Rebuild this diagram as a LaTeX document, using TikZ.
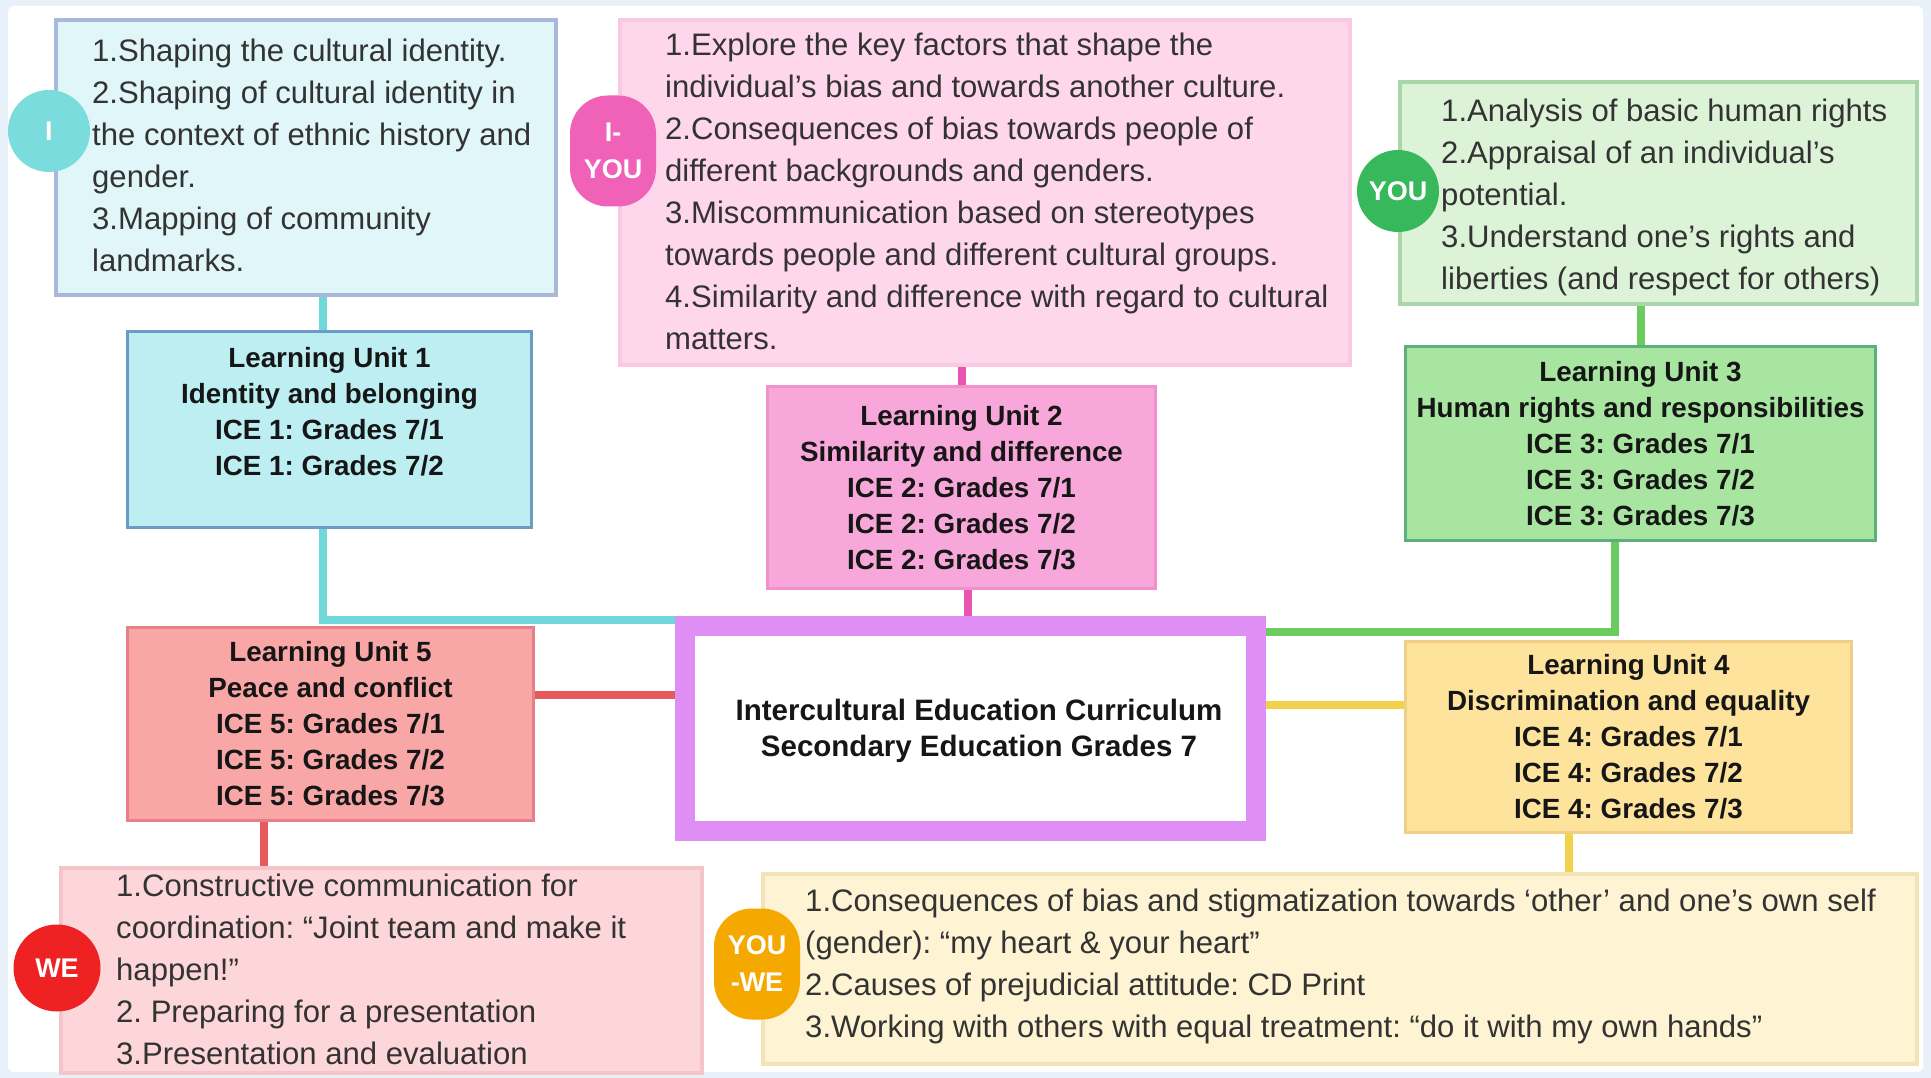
\documentclass[tikz,border=0pt]{standalone}
\usepackage{fontspec}
\setmainfont{Liberation Sans}
\usetikzlibrary{backgrounds}
\frenchspacing

% palette
\definecolor{frameblue}{HTML}{E8F1FA}
\definecolor{bodytext}{HTML}{333333}
\definecolor{unittext}{HTML}{161616}
\definecolor{cyanbadge}{HTML}{7ADCDC}
\definecolor{cyanline}{HTML}{70D8D8}
\definecolor{cyanpanel}{HTML}{E0F6F9}
\definecolor{cyanpanelrim}{HTML}{A9B7DA}
\definecolor{cyanunit}{HTML}{BDEFF2}
\definecolor{cyanunitrim}{HTML}{6E9AC6}
\definecolor{pinkbadge}{HTML}{F062B8}
\definecolor{pinkline}{HTML}{E856B2}
\definecolor{pinkpanel}{HTML}{FFD7EC}
\definecolor{pinkpanelrim}{HTML}{FAC8E1}
\definecolor{pinkunit}{HTML}{F7A7DA}
\definecolor{pinkunitrim}{HTML}{F290CD}
\definecolor{greenbadge}{HTML}{36B85B}
\definecolor{greenline}{HTML}{6ACB5E}
\definecolor{greenpanel}{HTML}{DDF3D8}
\definecolor{greenpanelrim}{HTML}{A9D6A9}
\definecolor{greenunit}{HTML}{A7E5A0}
\definecolor{greenunitrim}{HTML}{5DAF7C}
\definecolor{redbadge}{HTML}{EE2222}
\definecolor{redline}{HTML}{E65A5E}
\definecolor{redpanel}{HTML}{FDD6DA}
\definecolor{redpanelrim}{HTML}{F5C3CA}
\definecolor{redunit}{HTML}{F9A6A6}
\definecolor{redunitrim}{HTML}{E77F87}
\definecolor{orangebadge}{HTML}{F5A900}
\definecolor{yellowline}{HTML}{F2D24A}
\definecolor{yellowpanel}{HTML}{FEF3D2}
\definecolor{yellowpanelrim}{HTML}{F3E3B5}
\definecolor{yellowunit}{HTML}{FDE39C}
\definecolor{yellowunitrim}{HTML}{F0CE86}
\definecolor{purplerim}{HTML}{DF8EF3}

\tikzset{
  panel/.style={anchor=north west, inner sep=0pt, line width=4pt},
  body/.style={anchor=west, align=left, inner sep=0pt, text=bodytext,
    font=\fontsize{31.1}{42}\selectfont},
  unitbox/.style={anchor=north west, inner sep=0pt, line width=3pt, align=center,
    text=unittext, font=\bfseries\fontsize{27.8}{36}\selectfont},
  badge/.style={inner sep=0pt, text=white, align=center,
    font=\bfseries\fontsize{27}{37}\selectfont},
  roundbadge/.style={badge, circle},
  tallbadge/.style={badge, rectangle, rounded corners=38pt,
    minimum width=86pt, minimum height=111pt},
  link/.style={line width=8pt},
}

\begin{document}
\begin{tikzpicture}[x=1pt,y=-1pt]
\useasboundingbox (0,0) rectangle (1931,1078);

% ---- topic panels ----
\node[panel, fill=cyanpanel, draw=cyanpanelrim, minimum width=500pt, minimum height=275pt]
  (panelI) at (54,18) {};
\node[body] (textI) at (92,155) {1.Shaping the cultural identity.\\
2.Shaping of cultural identity in\\
the context of ethnic history and\\
gender.\\
3.Mapping of community\\
landmarks.};

\node[panel, fill=pinkpanel, draw=pinkpanelrim, minimum width=730pt, minimum height=345pt]
  (panelIYOU) at (618,18) {};
\node[body] (textIYOU) at (665,191) {1.Explore the key factors that shape the\\
individual’s bias and towards another culture.\\
2.Consequences of bias towards people of\\
different backgrounds and genders.\\
3.Miscommunication based on stereotypes\\
towards people and different cultural groups.\\
4.Similarity and difference with regard to cultural\\
matters.};

\node[panel, fill=greenpanel, draw=greenpanelrim, minimum width=517pt, minimum height=222pt]
  (panelYOU) at (1398,80) {};
\node[body] (textYOU) at (1441,197) {1.Analysis of basic human rights\\
2.Appraisal of an individual’s\\
potential.\\
3.Understand one’s rights and\\
liberties (and respect for others)};

\node[panel, fill=redpanel, draw=redpanelrim, minimum width=641pt, minimum height=205pt]
  (panelWE) at (59,866) {};
\node[body] (textWE) at (116,969) {1.Constructive communication for\\
coordination: “Joint team and make it\\
happen!”\\
2. Preparing for a presentation\\
3.Presentation and evaluation};

\node[panel, fill=yellowpanel, draw=yellowpanelrim, minimum width=1154pt, minimum height=190pt]
  (panelYOUWE) at (761,872) {};
\node[body] (textYOUWE) at (805,966) {1.Consequences of bias and stigmatization towards ‘other’ and one’s own self\\
(gender): “my heart \& your heart”\\
2.Causes of prejudicial attitude: CD Print\\
3.Working with others with equal treatment: “do it with my own hands”};

% ---- learning units ----
\node[unitbox, fill=cyanunit, draw=cyanunitrim, minimum width=404pt, minimum height=196pt]
  (unitA) at (126,330) {Learning Unit 1\\Identity and belonging\\ICE 1: Grades 7/1\\ICE 1: Grades 7/2\\\mbox{}};
\node[unitbox, fill=pinkunit, draw=pinkunitrim, minimum width=388pt, minimum height=202pt]
  (unitB) at (766,385) {Learning Unit 2\\Similarity and difference\\ICE 2: Grades 7/1\\ICE 2: Grades 7/2\\ICE 2: Grades 7/3};
\node[unitbox, fill=greenunit, draw=greenunitrim, minimum width=470pt, minimum height=194pt]
  (unitC) at (1404,345) {Learning Unit 3\\Human rights and responsibilities\\ICE 3: Grades 7/1\\ICE 3: Grades 7/2\\ICE 3: Grades 7/3};
\node[unitbox, fill=yellowunit, draw=yellowunitrim, minimum width=446pt, minimum height=191pt]
  (unitD) at (1404,640) {Learning Unit 4\\Discrimination and equality\\ICE 4: Grades 7/1\\ICE 4: Grades 7/2\\ICE 4: Grades 7/3};
\node[unitbox, fill=redunit, draw=redunitrim, minimum width=406pt, minimum height=193pt]
  (unitE) at (126,626) {Learning Unit 5\\Peace and conflict\\ICE 5: Grades 7/1\\ICE 5: Grades 7/2\\ICE 5: Grades 7/3};

% ---- central topic ----
\node[draw=purplerim, fill=white, line width=20pt, inner sep=0pt, minimum width=571pt,
  minimum height=205pt] (centre) at (970.5,728.5) {};
\node[align=center, inner sep=0pt, text=unittext,
  font=\bfseries\fontsize{29.5}{36}\selectfont]
  (centreText) at (979,731) {Intercultural Education Curriculum\\Secondary Education Grades 7};

% ---- badges ----
\node[roundbadge, fill=cyanbadge, minimum size=82pt] (badgeI) at (49,131) {I};
\node[tallbadge, fill=pinkbadge] (badgeIYOU) at (613,151) {I-\\YOU};
\node[roundbadge, fill=greenbadge, minimum size=82pt] (badgeYOU) at (1398,191) {YOU};
\node[roundbadge, fill=redbadge, minimum size=87pt] (badgeWE) at (57,968) {WE};
\node[tallbadge, fill=orangebadge] (badgeYOUWE) at (757,964) {YOU\\-WE};

% ---- frame and connectors (behind the boxes) ----
\begin{scope}[on background layer]
  \fill[frameblue] (0,0) rectangle (1931,1078);
  \fill[white, rounded corners=6pt] (8,6) rectangle (1923,1072);

  \draw[link, cyanline] ([xshift=-7pt]panelI.south -| unitA.north) -- ([xshift=-7pt]unitA.north);
  \draw[link, cyanline] ([xshift=-7pt]unitA.south) |- ([yshift=-4pt]centre.north west);

  \draw[link, pinkline] (panelIYOU.south -| unitB.north) -- (unitB.north);
  \draw[link, pinkline] ([xshift=6pt]unitB.south) -- ([xshift=6pt]unitB.south |- centre.north);

  \draw[link, greenline] (panelYOU.south -| unitC.north) -- (unitC.north);
  \draw[link, greenline] ([xshift=-26pt]unitC.south) |- ([yshift=-16pt]centre.north east);

  \draw[link, redline] ([yshift=29pt]unitE.east) -- ([yshift=29pt]unitE.east -| centre.west);
  \draw[link, redline] ([xshift=-67pt]unitE.south) -- ([xshift=-67pt]unitE.south |- panelWE.north);

  \draw[link, yellowline] ([yshift=32pt]unitD.west) -- ([yshift=32pt]unitD.west -| centre.east);
  \draw[link, yellowline] ([xshift=-60pt]unitD.south) -- ([xshift=-60pt]unitD.south |- panelYOUWE.north);
\end{scope}
\end{tikzpicture}
\end{document}
